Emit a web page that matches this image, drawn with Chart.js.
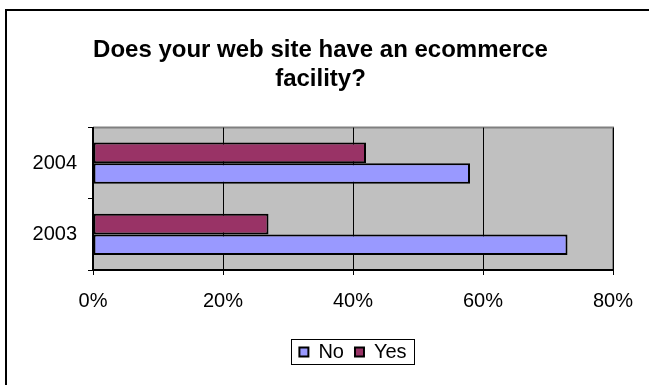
<!DOCTYPE html>
<html>
<head>
<meta charset="utf-8">
<script src="https://cdn.jsdelivr.net/npm/chart.js@4/dist/chart.umd.min.js"></script>
<style>
  html, body { margin: 0; padding: 0; background: #fff; }
  #wrap { width: 649px; height: 385px; }
</style>
</head>
<body>
<div id="wrap"><canvas id="ecomChart" width="649" height="385"></canvas></div>
<script>
const years = ['2004', '2003'];
const noValues = [58, 73];
const yesValues = [42, 27];
const xTicks = [0, 20, 40, 60, 80];

const FONT = "'Liberation Sans', Arial, sans-serif";

// white page, outer frame, grey plot background and boxed legend
const frame = {
    id: 'frame',
    afterLayout(chart) {
        // legend goes under the middle of the plot, a little lower
        const lg = chart.legend;
        const shift = (chart.chartArea.left + chart.chartArea.right) / 2 - (lg.left + lg.right) / 2;
        lg.left += shift;
        lg.right += shift;
        lg.top += 4;
        lg.bottom += 4;
    },
    beforeDraw(chart) {
        const ctx = chart.ctx;
        const a = chart.chartArea;
        ctx.save();
        ctx.fillStyle = '#fff';
        ctx.fillRect(0, 0, chart.width, chart.height);
        ctx.strokeStyle = '#000';
        ctx.lineWidth = 2;
        ctx.beginPath();
        ctx.moveTo(6, chart.height + 5);
        ctx.lineTo(6, 10);
        ctx.lineTo(chart.width + 5, 10);
        ctx.stroke();
        ctx.fillStyle = '#c0c0c0';
        ctx.fillRect(a.left, a.top, a.right - a.left, a.bottom - a.top);
        ctx.strokeStyle = '#808080';
        ctx.beginPath();
        ctx.moveTo(a.left, a.top);
        ctx.lineTo(a.right, a.top);
        ctx.lineTo(a.right, a.bottom);
        ctx.stroke();
        ctx.restore();
    },
    afterDraw(chart) {
        const boxes = chart.legend.legendHitBoxes;
        if (!boxes || !boxes.length) return;
        const left = Math.min(...boxes.map(b => b.left)) - 8;
        const right = Math.max(...boxes.map(b => b.left + b.width)) + 8;
        const mid = boxes[0].top + boxes[0].height / 2;
        const ctx = chart.ctx;
        ctx.save();
        ctx.strokeStyle = '#000';
        ctx.lineWidth = 1;
        ctx.strokeRect(Math.round(left) + 0.5, Math.round(mid - 13) + 0.5,
            Math.round(right - left), 25);
        ctx.restore();
    }
};

new Chart(document.getElementById('ecomChart'), {
    type: 'bar',
    data: {
        labels: years,
        datasets: [
            {
                label: 'Yes',
                data: yesValues,
                backgroundColor: '#993366',
                borderColor: '#000',
                borderWidth: 2,
                borderSkipped: false,
                barPercentage: 1,
                categoryPercentage: 0.58
            },
            {
                label: 'No',
                data: noValues,
                backgroundColor: '#9999ff',
                borderColor: '#000',
                borderWidth: 2,
                borderSkipped: false,
                barPercentage: 1,
                categoryPercentage: 0.58
            }
        ]
    },
    options: {
        indexAxis: 'y',
        responsive: false,
        animation: false,
        layout: { padding: { left: 28, right: 36, top: 26, bottom: 17 } },
        plugins: {
            title: {
                display: true,
                text: ['Does your web site have an ecommerce', 'facility?'],
                color: '#000',
                font: { family: FONT, size: 24, weight: 'bold', lineHeight: 1.2 },
                padding: { top: 10, bottom: 34 }
            },
            legend: {
                position: 'bottom',
                reverse: true,
                labels: {
                    color: '#000',
                    font: { family: FONT, size: 20 },
                    boxWidth: 9,
                    boxHeight: 9,
                    padding: 11
                }
            },
            tooltip: { enabled: false }
        },
        scales: {
            x: {
                min: 0,
                max: 80,
                afterBuildTicks(scale) {
                    scale.ticks = xTicks.map(v => ({ value: v }));
                },
                ticks: {
                    color: '#000',
                    font: { family: FONT, size: 20 },
                    padding: 14,
                    callback: v => v + '%'
                },
                grid: { color: '#000', lineWidth: 1, tickLength: 5 },
                border: { color: '#000', width: 2 }
            },
            y: {
                afterFit(scale) { scale.width = 65; },
                ticks: {
                    color: '#000',
                    font: { family: FONT, size: 20 },
                    padding: 11
                },
                grid: { offset: true, drawOnChartArea: false, color: '#000', tickLength: 5 },
                border: { color: '#000', width: 2 }
            }
        }
    },
    plugins: [frame]
});
</script>
</body>
</html>
